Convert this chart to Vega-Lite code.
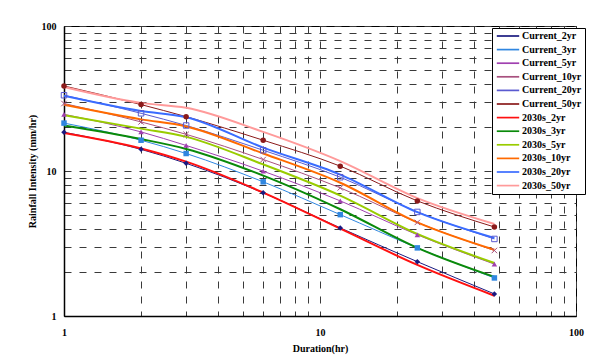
{
  "$schema": "https://vega.github.io/schema/vega-lite/v6.json",
  "width": 512,
  "height": 290,
  "autosize": "none",
  "padding": {"left": 64, "top": 26, "right": 14, "bottom": 45},
  "background": "white",
  "config": {
    "view": {"stroke": "#000", "strokeWidth": 1},
    "font": "Liberation Serif"
  },
  "resolve": {"legend": {"color": "independent"}},
  "data": {
    "values": [
      {"series": "Current_2yr", "duration": 1, "intensity": 18.5},
      {"series": "Current_2yr", "duration": 2, "intensity": 14.1},
      {"series": "Current_2yr", "duration": 3, "intensity": 11.3},
      {"series": "Current_2yr", "duration": 6, "intensity": 7.07},
      {"series": "Current_2yr", "duration": 12, "intensity": 4.05},
      {"series": "Current_2yr", "duration": 24, "intensity": 2.37},
      {"series": "Current_2yr", "duration": 48, "intensity": 1.42},
      {"series": "Current_3yr", "duration": 1, "intensity": 21.4},
      {"series": "Current_3yr", "duration": 2, "intensity": 16.3},
      {"series": "Current_3yr", "duration": 3, "intensity": 13.2},
      {"series": "Current_3yr", "duration": 6, "intensity": 8.42},
      {"series": "Current_3yr", "duration": 12, "intensity": 5.0},
      {"series": "Current_3yr", "duration": 24, "intensity": 2.95},
      {"series": "Current_3yr", "duration": 48, "intensity": 1.83},
      {"series": "Current_5yr", "duration": 1, "intensity": 24.6},
      {"series": "Current_5yr", "duration": 2, "intensity": 18.6},
      {"series": "Current_5yr", "duration": 3, "intensity": 15.0},
      {"series": "Current_5yr", "duration": 6, "intensity": 9.97},
      {"series": "Current_5yr", "duration": 12, "intensity": 6.22},
      {"series": "Current_5yr", "duration": 24, "intensity": 3.63},
      {"series": "Current_5yr", "duration": 48, "intensity": 2.28},
      {"series": "Current_10yr", "duration": 1, "intensity": 29.2},
      {"series": "Current_10yr", "duration": 2, "intensity": 21.8},
      {"series": "Current_10yr", "duration": 3, "intensity": 17.9},
      {"series": "Current_10yr", "duration": 6, "intensity": 12.0},
      {"series": "Current_10yr", "duration": 12, "intensity": 7.65},
      {"series": "Current_10yr", "duration": 24, "intensity": 4.42},
      {"series": "Current_10yr", "duration": 48, "intensity": 2.83},
      {"series": "Current_20yr", "duration": 1, "intensity": 33.3},
      {"series": "Current_20yr", "duration": 2, "intensity": 25.0},
      {"series": "Current_20yr", "duration": 3, "intensity": 20.6},
      {"series": "Current_20yr", "duration": 6, "intensity": 13.9},
      {"series": "Current_20yr", "duration": 12, "intensity": 9.06},
      {"series": "Current_20yr", "duration": 24, "intensity": 5.22},
      {"series": "Current_20yr", "duration": 48, "intensity": 3.4},
      {"series": "Current_50yr", "duration": 1, "intensity": 38.6},
      {"series": "Current_50yr", "duration": 2, "intensity": 28.7},
      {"series": "Current_50yr", "duration": 3, "intensity": 23.7},
      {"series": "Current_50yr", "duration": 6, "intensity": 16.3},
      {"series": "Current_50yr", "duration": 12, "intensity": 10.8},
      {"series": "Current_50yr", "duration": 24, "intensity": 6.22},
      {"series": "Current_50yr", "duration": 48, "intensity": 4.11},
      {"series": "2030s_2yr", "duration": 1, "intensity": 18.3},
      {"series": "2030s_2yr", "duration": 2, "intensity": 14.3},
      {"series": "2030s_2yr", "duration": 3, "intensity": 11.6},
      {"series": "2030s_2yr", "duration": 6, "intensity": 7.1},
      {"series": "2030s_2yr", "duration": 12, "intensity": 4.0},
      {"series": "2030s_2yr", "duration": 24, "intensity": 2.25},
      {"series": "2030s_2yr", "duration": 48, "intensity": 1.38},
      {"series": "2030s_3yr", "duration": 1, "intensity": 20.6},
      {"series": "2030s_3yr", "duration": 2, "intensity": 16.6},
      {"series": "2030s_3yr", "duration": 3, "intensity": 14.2},
      {"series": "2030s_3yr", "duration": 6, "intensity": 9.3},
      {"series": "2030s_3yr", "duration": 12, "intensity": 5.45},
      {"series": "2030s_3yr", "duration": 24, "intensity": 2.95},
      {"series": "2030s_3yr", "duration": 48, "intensity": 1.86},
      {"series": "2030s_5yr", "duration": 1, "intensity": 24.3},
      {"series": "2030s_5yr", "duration": 2, "intensity": 19.6},
      {"series": "2030s_5yr", "duration": 3, "intensity": 17.2},
      {"series": "2030s_5yr", "duration": 6, "intensity": 11.1},
      {"series": "2030s_5yr", "duration": 12, "intensity": 6.77},
      {"series": "2030s_5yr", "duration": 24, "intensity": 3.68},
      {"series": "2030s_5yr", "duration": 48, "intensity": 2.32},
      {"series": "2030s_10yr", "duration": 1, "intensity": 28.6},
      {"series": "2030s_10yr", "duration": 2, "intensity": 22.7},
      {"series": "2030s_10yr", "duration": 3, "intensity": 20.3},
      {"series": "2030s_10yr", "duration": 6, "intensity": 13.2},
      {"series": "2030s_10yr", "duration": 12, "intensity": 8.3},
      {"series": "2030s_10yr", "duration": 24, "intensity": 4.42},
      {"series": "2030s_10yr", "duration": 48, "intensity": 2.86},
      {"series": "2030s_20yr", "duration": 1, "intensity": 33.0},
      {"series": "2030s_20yr", "duration": 2, "intensity": 25.9},
      {"series": "2030s_20yr", "duration": 3, "intensity": 23.5},
      {"series": "2030s_20yr", "duration": 6, "intensity": 14.5},
      {"series": "2030s_20yr", "duration": 12, "intensity": 9.45},
      {"series": "2030s_20yr", "duration": 24, "intensity": 5.2},
      {"series": "2030s_20yr", "duration": 48, "intensity": 3.45},
      {"series": "2030s_50yr", "duration": 1, "intensity": 38.0},
      {"series": "2030s_50yr", "duration": 2, "intensity": 29.5},
      {"series": "2030s_50yr", "duration": 3, "intensity": 27.3},
      {"series": "2030s_50yr", "duration": 6, "intensity": 18.6},
      {"series": "2030s_50yr", "duration": 12, "intensity": 11.7},
      {"series": "2030s_50yr", "duration": 24, "intensity": 6.5},
      {"series": "2030s_50yr", "duration": 48, "intensity": 4.31}
    ]
  },
  "encoding": {
    "x": {
      "field": "duration", "type": "quantitative",
      "scale": {"type": "log", "domain": [1, 100], "nice": false},
      "axis": {
        "title": "Duration(hr)",
        "values": [1,2,3,4,5,6,7,8,9,10,20,30,40,50,60,70,80,90,100],
        "labelExpr": "datum.value == 1 || datum.value == 10 || datum.value == 100 ? datum.label : ''",
        "labelOverlap": false,
        "labelFlush": false,
        "ticks": false,
        "grid": true, "gridDash": [7, 8], "gridColor": "#3a3a3a", "gridWidth": 1,
        "domainColor": "#000", "domainWidth": 1.5,
        "labelFont": "Liberation Serif", "labelFontWeight": "bold", "labelFontSize": 10, "labelColor": "#000",
        "labelPadding": 11,
        "titleFont": "Liberation Serif", "titleFontWeight": "bold", "titleFontSize": 10, "titleColor": "#000",
        "titlePadding": 6
      }
    },
    "y": {
      "field": "intensity", "type": "quantitative",
      "scale": {"type": "log", "domain": [1, 100], "nice": false},
      "axis": {
        "title": "Rainfall Intensity (mm/hr)",
        "values": [1,2,3,4,5,6,7,8,9,10,20,30,40,50,60,70,80,90,100],
        "labelExpr": "datum.value == 1 || datum.value == 10 || datum.value == 100 ? datum.label : ''",
        "labelOverlap": false,
        "labelFlush": false,
        "ticks": false,
        "grid": true, "gridDash": [7, 8], "gridColor": "#3a3a3a", "gridWidth": 1,
        "domainColor": "#000", "domainWidth": 1.5,
        "labelFont": "Liberation Serif", "labelFontWeight": "bold", "labelFontSize": 10, "labelColor": "#000",
        "labelPadding": 8,
        "titleFont": "Liberation Serif", "titleFontWeight": "bold", "titleFontSize": 10, "titleColor": "#000",
        "titlePadding": 4
      }
    }
  },
  "layer": [
    {
      "mark": {"type": "line", "interpolate": "monotone"},
      "encoding": {
        "color": {
          "field": "series", "type": "nominal",
          "scale": {
            "domain": ["Current_2yr","Current_3yr","Current_5yr","Current_10yr","Current_20yr","Current_50yr","2030s_2yr","2030s_3yr","2030s_5yr","2030s_10yr","2030s_20yr","2030s_50yr"],
            "range": ["#1a1a80","#2f86e0","#a040b0","#a8507e","#5a5ad0","#8b1a1a","#ff1010","#0a8a0a","#99cc00","#ff6a00","#3a6cff","#ff9a9a"]
          },
          "legend": {
            "title": null,
            "orient": "none",
            "legendX": 428,
            "legendY": 2,
            "strokeColor": "#000",
            "fillColor": "#fff",
            "padding": 3,
            "symbolType": "M-3.2,0H3.2",
            "symbolSize": 49,
            "symbolStrokeWidth": 1.7,
            "symbolOffset": 8,
            "labelOffset": 9,
            "rowPadding": 3.6,
            "labelFont": "Liberation Serif",
            "labelFontWeight": "bold",
            "labelFontSize": 10,
            "labelColor": "#000"
          }
        },
        "strokeWidth": {
          "condition": {"test": "indexof(datum.series, '2030s') == 0", "value": 2},
          "value": 1
        }
      }
    },
    {
      "transform": [{"filter": {"field": "series", "oneOf": ["Current_2yr","Current_3yr","Current_5yr","Current_50yr"]}}],
      "mark": {"type": "point", "filled": true, "size": 30, "opacity": 1},
      "encoding": {
        "color": {"field": "series", "type": "nominal", "legend": null},
        "shape": {
          "field": "series", "type": "nominal", "legend": null,
          "scale": {
            "domain": ["Current_2yr","Current_3yr","Current_5yr","Current_10yr","Current_20yr","Current_50yr"],
            "range": ["diamond","square","triangle-up","M-1,-1L1,1M-1,1L1,-1","square","circle"]
          }
        }
      }
    },
    {
      "transform": [{"filter": {"field": "series", "oneOf": ["Current_10yr","Current_20yr"]}}],
      "mark": {"type": "point", "filled": false, "size": 30, "strokeWidth": 1, "opacity": 1},
      "encoding": {
        "color": {"field": "series", "type": "nominal", "legend": null},
        "shape": {
          "field": "series", "type": "nominal", "legend": null,
          "scale": {
            "domain": ["Current_2yr","Current_3yr","Current_5yr","Current_10yr","Current_20yr","Current_50yr"],
            "range": ["diamond","square","triangle-up","M-1,-1L1,1M-1,1L1,-1","square","circle"]
          }
        }
      }
    }
  ]
}
